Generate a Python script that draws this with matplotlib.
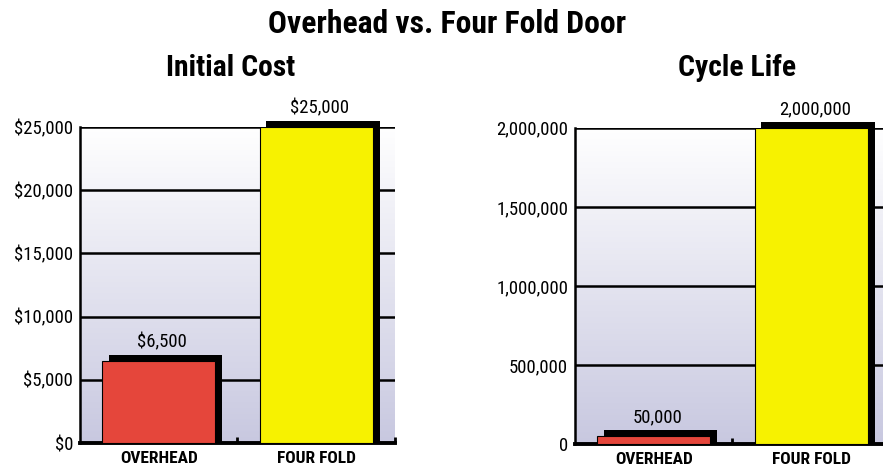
import numpy as np
import matplotlib
matplotlib.use("Agg")
import matplotlib.pyplot as plt
from matplotlib import font_manager
from matplotlib.ticker import FuncFormatter

categories = ["OVERHEAD", "FOUR FOLD"]
cost_values = [6500, 25000]
cycle_values = [50000, 2000000]
cost_ticks = [0, 5000, 10000, 15000, 20000, 25000]
cycle_ticks = [0, 500000, 1000000, 1500000, 2000000]

bar_colors = ["#e5463b", "#f7f200"]

# prefer a condensed face when one is there
installed = {f.name for f in font_manager.fontManager.ttflist}
narrow = [n for n in ["Roboto Condensed", "Liberation Sans Narrow", "Arial Narrow"] if n in installed]
FONT = narrow + ["Roboto", "DejaVu Sans"]
plt.rcParams['font.family'] = FONT
scale = 1.0 if narrow else 0.88

title_size = 22.8 * scale
sub_size = 21.3 * scale
tick_size = 13.5 * scale
cat_size = 12.5 * scale


def gradient_bg(ax, ymax):
    grad = np.linspace(0, 1, 256).reshape(-1, 1, 1)
    top = np.array([1.0, 1.0, 1.0])
    bot = np.array([200, 200, 224]) / 255
    img = top + (bot - top) * grad
    ax.imshow(img, extent=[-0.5, 1.5, 0, ymax], aspect="auto", zorder=0,
              origin="upper")


def draw_panel(ax, values, ticks, fmt):
    ymax = ticks[-1]
    x = np.arange(len(values))
    gradient_bg(ax, ymax)
    ax.set_xlim(-0.5, 1.5)
    ax.set_ylim(0, ymax)

    dx = 0.044
    dy = 0.019 * ymax
    w = 0.72
    ax.bar(x + dx, np.array(values) + dy, w, color="black", zorder=2, clip_on=False)
    ax.bar(x, values, w, color=bar_colors, edgecolor="black", linewidth=0.8, zorder=3)
    for xi, v in zip(x, values):
        ax.text(xi + dx / 2, v + dy + 0.012 * ymax, fmt(v), ha="center", va="bottom",
                fontsize=tick_size)

    ax.set_yticks(ticks)
    ax.yaxis.set_major_formatter(FuncFormatter(lambda v, p: fmt(v)))
    ax.yaxis.grid(True, color="black", linewidth=1.8)
    ax.set_axisbelow(True)
    ax.tick_params(axis="y", length=0, pad=5, labelsize=tick_size)

    ax.set_xticks(x)
    ax.set_xticklabels(categories, fontweight="bold", fontsize=cat_size)
    ax.tick_params(axis="x", length=0, pad=6)
    ax.set_xticks([0.5, 1.5], minor=True)
    ax.tick_params(axis="x", which="minor", direction="in", length=4, width=2)

    for s in ["top", "right"]:
        ax.spines[s].set_visible(False)
    ax.spines["left"].set_linewidth(1.8)
    ax.spines["bottom"].set_linewidth(2.8)


fig = plt.figure(figsize=(8.83, 4.74), dpi=100)
ax1 = fig.add_axes([0.0906, 0.0654, 0.3567, 0.667])
ax2 = fig.add_axes([0.6512, 0.0633, 0.3567, 0.667])

draw_panel(ax1, cost_values, cost_ticks, lambda v: f"${v:,.0f}")
draw_panel(ax2, cycle_values, cycle_ticks, lambda v: f"{v:,.0f}")

fig.text(447 / 883, 1 - 24 / 474, "Overhead vs. Four Fold Door", ha="center", va="center",
         fontsize=title_size, fontweight="bold")
fig.text(231 / 883, 1 - 68 / 474, "Initial Cost", ha="center", va="center",
         fontsize=sub_size, fontweight="bold")
fig.text(737 / 883, 1 - 68 / 474, "Cycle Life", ha="center", va="center",
         fontsize=sub_size, fontweight="bold")

fig.savefig("out.png", dpi=100)
